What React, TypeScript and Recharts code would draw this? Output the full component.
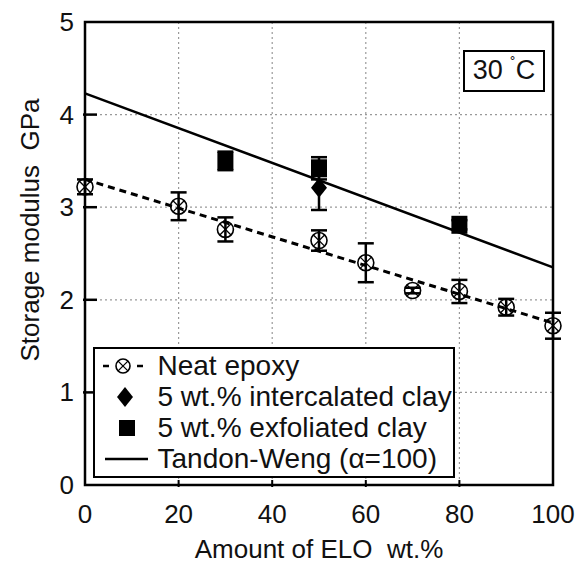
import React from "react";
import {
  ScatterChart,
  Scatter,
  XAxis,
  YAxis,
  CartesianGrid,
  ErrorBar,
  ReferenceArea,
  Legend,
} from "recharts";

const FONT = '"Liberation Sans", Arial, Helvetica, sans-serif';

// neat epoxy
const neatX = [0, 20, 30, 50, 60, 70, 80, 90, 100];
const neatY = [3.22, 3.01, 2.76, 2.64, 2.4, 2.1, 2.09, 1.92, 1.72];
const neatErr = [0.08, 0.15, 0.13, 0.11, 0.21, 0.03, 0.125, 0.09, 0.14];

// 5 wt.% intercalated clay
const interX = [50];
const interY = [3.21];
const interErr = [0.24];

// 5 wt.% exfoliated clay
const exfoX = [30, 50, 80];
const exfoY = [3.5, 3.42, 2.81];
const exfoErr = [0.1, 0.12, 0.05];

// linear fit through neat epoxy and Tandon-Weng prediction (end points)
const fitX = [0, 100];
const neatFitY = [3.3, 1.75];
const tandonY = [4.23, 2.35];

const xTicks = [0, 20, 40, 60, 80, 100];
const yTicks = [0, 1, 2, 3, 4, 5];

const neat = neatX.map((x, i) => ({ x, y: neatY[i], err: neatErr[i] }));
const inter = interX.map((x, i) => ({ x, y: interY[i], err: interErr[i] }));
const exfo = exfoX.map((x, i) => ({ x, y: exfoY[i], err: exfoErr[i] }));
const neatFit = fitX.map((x, i) => ({ x, y: neatFitY[i] }));
const tandon = fitX.map((x, i) => ({ x, y: tandonY[i] }));

const CrossCircle = ({ cx, cy, r = 8 }: any) => {
  const d = r * 0.7;
  return (
    <g>
      <circle cx={cx} cy={cy} r={r} fill="none" stroke="#000" strokeWidth={1.6} />
      <line x1={cx - d} y1={cy - d} x2={cx + d} y2={cy + d} stroke="#000" strokeWidth={1.3} />
      <line x1={cx - d} y1={cy + d} x2={cx + d} y2={cy - d} stroke="#000" strokeWidth={1.3} />
    </g>
  );
};

const Diamond = ({ cx, cy }: any) => (
  <path d={`M${cx},${cy - 10} L${cx + 8},${cy} L${cx},${cy + 10} L${cx - 8},${cy} Z`} fill="#000" />
);

const Square = ({ cx, cy }: any) => (
  <rect x={cx - 8} y={cy - 9} width={16} height={18} fill="#000" />
);

const NoMark = () => <g />;

const YTick = ({ x, y, payload }: any) => (
  <g>
    {payload.value > 0 && payload.value < 5 && (
      <line x1={x} y1={y} x2={x + 14} y2={y} stroke="#000" strokeWidth={2.5} />
    )}
    <text x={x - 9} y={y} dy={9} textAnchor="end" fontSize={26} fontFamily={FONT} fill="#111">
      {payload.value}
    </text>
  </g>
);

const XTick = ({ x, y, payload }: any) => (
  <g>
    {payload.value > 0 && payload.value < 100 && (
      <line x1={x} y1={y} x2={x} y2={y - 7} stroke="#000" strokeWidth={2} />
    )}
    <text x={x} y={y} dy={36} textAnchor="middle" fontSize={26} fontFamily={FONT} fill="#111">
      {payload.value}
    </text>
  </g>
);

const XTitle = ({ viewBox }: any) => (
  <text
    x={viewBox.x + viewBox.width / 2}
    y={viewBox.y + 73}
    textAnchor="middle"
    fontSize={26}
    fontFamily={FONT}
    fill="#111"
    style={{ whiteSpace: "pre" }}
  >
    {"Amount of ELO  wt.%"}
  </text>
);

const YTitle = ({ viewBox }: any) => {
  const cx = 39;
  const cy = viewBox.y + 208;
  return (
    <text
      x={cx}
      y={cy}
      transform={`rotate(-90 ${cx} ${cy})`}
      textAnchor="middle"
      fontSize={26}
      fontFamily={FONT}
      fill="#111"
      style={{ whiteSpace: "pre" }}
    >
      {"Storage modulus  GPa"}
    </text>
  );
};

const legendRows = [
  {
    label: "Neat epoxy",
    icon: (
      <svg width={56} height={24}>
        <line x1={3} y1={12} x2={9} y2={12} stroke="#000" strokeWidth={2.5} />
        <line x1={37} y1={12} x2={43} y2={12} stroke="#000" strokeWidth={2.5} />
        <CrossCircle cx={23} cy={12} r={7} />
      </svg>
    ),
  },
  {
    label: "5 wt.% intercalated clay",
    icon: (
      <svg width={56} height={24}>
        <Diamond cx={25} cy={12} />
      </svg>
    ),
  },
  {
    label: "5 wt.% exfoliated clay",
    icon: (
      <svg width={56} height={24}>
        <rect x={19} y={4} width={16} height={16} fill="#000" />
      </svg>
    ),
  },
  {
    label: "Tandon-Weng (α=100)",
    icon: (
      <svg width={56} height={24}>
        <line x1={5} y1={12} x2={48} y2={12} stroke="#000" strokeWidth={2.5} />
      </svg>
    ),
  },
];

const LegendBox = () => (
  <div
    style={{
      border: "2.5px solid #000",
      boxSizing: "border-box",
      width: 362,
      height: 131,
      padding: "1px 0 0 0",
      background: "#fff",
      fontFamily: FONT,
      fontSize: 28,
      color: "#111",
    }}
  >
    {legendRows.map((r) => (
      <div key={r.label} style={{ display: "flex", alignItems: "center", height: 31, whiteSpace: "nowrap" }}>
        <div style={{ width: 56, marginLeft: 4.5, display: "flex" }}>{r.icon}</div>
        <span style={{ marginLeft: 2 }}>{r.label}</span>
      </div>
    ))}
  </div>
);

export default function App() {
  return (
    <div style={{ position: "absolute", left: 0, top: 0, width: 576, height: 565, background: "#fff" }}>
      <ScatterChart width={576} height={565} margin={{ top: 22, right: 23, left: 0, bottom: 0 }}>
        <CartesianGrid stroke="#999" strokeDasharray="2 3" strokeWidth={1.2} />
        <XAxis
          type="number"
          dataKey="x"
          domain={[0, 100]}
          ticks={xTicks}
          height={80}
          tickLine={false}
          axisLine={false}
          tickSize={0}
          tick={<XTick />}
          label={<XTitle />}
        />
        <YAxis
          type="number"
          dataKey="y"
          domain={[0, 5]}
          ticks={yTicks}
          width={85}
          tickLine={false}
          axisLine={false}
          tickSize={0}
          tick={<YTick />}
          label={<YTitle />}
        />
        <ReferenceArea x1={0} x2={100} y1={0} y2={5} fill="none" stroke="#000" strokeWidth={2.5} fillOpacity={0} />
        <Scatter data={tandon} line={{ stroke: "#000", strokeWidth: 2.5 }} shape={<NoMark />} isAnimationActive={false} />
        <Scatter data={neatFit} line={{ stroke: "#000", strokeWidth: 3, strokeDasharray: "7 5" }} shape={<NoMark />} isAnimationActive={false} />
        <Scatter data={neat} shape={<CrossCircle />} isAnimationActive={false}>
          <ErrorBar dataKey="err" direction="y" width={8} stroke="#000" strokeWidth={2.5} />
        </Scatter>
        <Scatter data={inter} shape={<Diamond />} isAnimationActive={false}>
          <ErrorBar dataKey="err" direction="y" width={8} stroke="#000" strokeWidth={2.5} />
        </Scatter>
        <Scatter data={exfo} shape={<Square />} isAnimationActive={false}>
          <ErrorBar dataKey="err" direction="y" width={8} stroke="#000" strokeWidth={2.5} />
        </Scatter>
        <Legend
          layout="horizontal"
          verticalAlign="middle"
          align="center"
          content={<LegendBox />}
          wrapperStyle={{ left: 93, top: 347, width: 362, height: 131 }}
        />
      </ScatterChart>
      <div
        style={{
          position: "absolute",
          left: 463,
          top: 50,
          width: 82,
          height: 42,
          boxSizing: "border-box",
          border: "2.5px solid #000",
          background: "#fff",
          fontFamily: FONT,
          fontSize: 27,
          color: "#111",
          textAlign: "center",
          lineHeight: "37px",
        }}
      >
        30 <sup style={{ fontSize: 16, verticalAlign: "top", lineHeight: "24px" }}>˚</sup>C
      </div>
    </div>
  );
}
